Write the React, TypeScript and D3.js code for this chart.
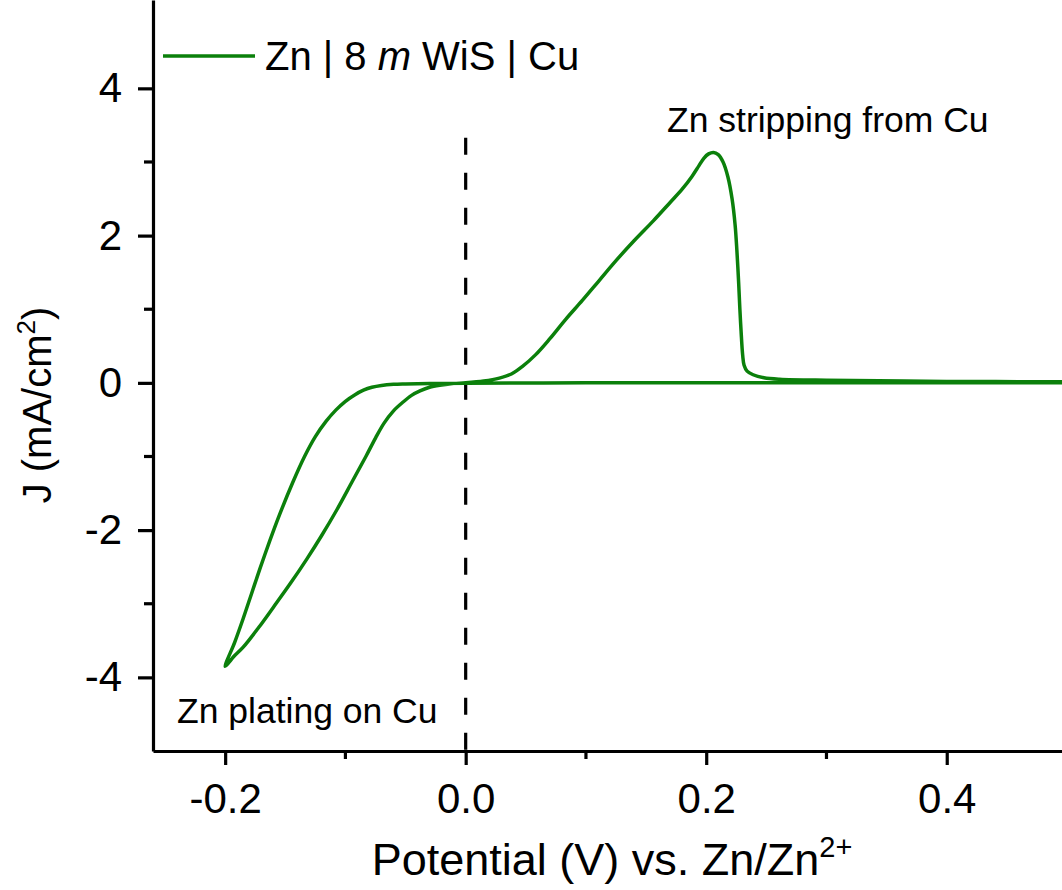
import React, { useEffect, useRef } from 'react'
import * as d3 from 'd3'

// cathodic sweep: 0.5 V down to -0.2 V (V, mA/cm2)
const sweepDownV = [0.5, 0.4, 0.3, 0.2, 0.1, 0.0, -0.03, -0.05, -0.06, -0.07, -0.078, -0.085, -0.092, -0.1, -0.108, -0.116, -0.125, -0.134, -0.144, -0.155, -0.163, -0.171, -0.178, -0.185, -0.192, -0.2]
const sweepDownJ = [0.0, 0.0, 0.0, 0.0, 0.0, -0.005, -0.01, -0.015, -0.02, -0.035, -0.06, -0.1, -0.16, -0.25, -0.37, -0.52, -0.73, -1.0, -1.36, -1.8, -2.15, -2.52, -2.86, -3.2, -3.52, -3.85]

// anodic sweep: -0.2 V back up to 0.5 V, with stripping peak
const sweepUpV = [-0.197, -0.193, -0.185, -0.172, -0.16, -0.146, -0.132, -0.12, -0.107, -0.094, -0.083, -0.075, -0.068, -0.06, -0.052, -0.045, -0.038, -0.03, -0.02, -0.01, 0.0, 0.015, 0.028, 0.038, 0.047, 0.058, 0.07, 0.083, 0.097, 0.111, 0.125, 0.14, 0.156, 0.17, 0.18, 0.188, 0.194, 0.198, 0.202, 0.206, 0.21, 0.214, 0.218, 0.2215, 0.224, 0.2255, 0.227, 0.228, 0.229, 0.2303, 0.2315, 0.234, 0.239, 0.248, 0.261, 0.3, 0.4, 0.5]
const sweepUpJ = [-3.8, -3.72, -3.59, -3.32, -3.05, -2.73, -2.39, -2.08, -1.72, -1.33, -1.0, -0.75, -0.55, -0.38, -0.26, -0.17, -0.11, -0.06, -0.03, -0.01, 0.0, 0.025, 0.065, 0.12, 0.22, 0.38, 0.6, 0.86, 1.12, 1.39, 1.66, 1.93, 2.2, 2.45, 2.63, 2.8, 2.95, 3.05, 3.11, 3.13, 3.1, 3.0, 2.8, 2.5, 2.15, 1.8, 1.35, 1.0, 0.7, 0.38, 0.24, 0.16, 0.11, 0.07, 0.05, 0.035, 0.02, 0.015]

const xMajor = [-0.2, 0.0, 0.2, 0.4]
const xMinor = [-0.1, 0.1, 0.3]
const yMajor = [-4, -2, 0, 2, 4]
const yMinor = [-3, -1, 1, 3]

const lineColor = '#0b800b'
const font = '"Liberation Sans", Arial, sans-serif'

export default function App() {
  const ref = useRef<SVGSVGElement>(null)

  const width = 1062
  const height = 890
  const x = d3.scaleLinear().domain([-0.26, 0.5]).range([153, 1067])
  const y = d3.scaleLinear().domain([-5, 5.2]).range([751, 0])

  const pts: [number, number][] = [
    ...sweepDownV.map((v, i) => [v, sweepDownJ[i]] as [number, number]),
    ...sweepUpV.map((v, i) => [v, sweepUpJ[i]] as [number, number]),
  ]

  useEffect(() => {
    const el = ref.current
    if (!el) return
    const svg = d3.select(el)
    svg.selectAll('.axes').remove()
    const g = svg.append('g').attr('class', 'axes')

    const xAxis = g.append('g').attr('transform', `translate(0, ${y(-5)})`)
    xAxis.call(d3.axisBottom(x).tickValues(xMajor).tickSize(14).tickSizeOuter(0).tickPadding(18).tickFormat(d => (+d).toFixed(1)))
    xAxis.append('g').selectAll('line').data(xMinor).join('line')
      .attr('x1', d => x(d)).attr('x2', d => x(d)).attr('y1', 0).attr('y2', 8)

    const yAxis = g.append('g').attr('transform', `translate(${x(-0.26)}, 0)`)
    yAxis.call(d3.axisLeft(y).tickValues(yMajor).tickSize(15).tickSizeOuter(0).tickPadding(16).tickFormat(d => String(d)))
    yAxis.append('g').selectAll('line').data(yMinor).join('line')
      .attr('y1', d => y(d)).attr('y2', d => y(d)).attr('x1', 0).attr('x2', -9)

    g.selectAll('.domain, line').attr('stroke', '#000').attr('stroke-width', 3.2)
    g.selectAll('text').attr('fill', '#000').attr('font-size', 42).attr('font-family', font)
  }, [])

  const line = d3.line<[number, number]>().x(d => x(d[0])).y(d => y(d[1])).curve(d3.curveCatmullRom.alpha(0.5))

  return (
    <svg ref={ref} width={width} height={height} style={{ position: 'absolute', left: 0, top: 0, background: '#fff' }}>
      <line x1={x(0)} x2={x(0)} y1={y(3.33)} y2={y(-5)} stroke="#000" strokeWidth={3.2} strokeDasharray="17,18" />
      <path d={line(pts) ?? ''} fill="none" stroke={lineColor} strokeWidth={3.5} strokeLinejoin="round" />

      <line x1={163} x2={255} y1={56} y2={56} stroke={lineColor} strokeWidth={3.5} />
      <text x={265} y={70} fontFamily={font} fontSize={40} fill="#000">
        Zn | 8 <tspan fontStyle="italic">m</tspan> WiS | Cu
      </text>

      <text x={667} y={132} fontFamily={font} fontSize={35.5} fill="#000">Zn stripping from Cu</text>
      <text x={177} y={723} fontFamily={font} fontSize={35.5} fill="#000">Zn plating on Cu</text>

      <text x={612} y={875} textAnchor="middle" fontFamily={font} fontSize={45} fill="#000">
        Potential (V) vs. Zn/Zn<tspan fontSize={29} dy={-18}>2+</tspan>
      </text>
      <text transform={`translate(51, 405) rotate(-90)`} textAnchor="middle" fontFamily={font} fontSize={40} fill="#000">
        J (mA/cm<tspan fontSize={26} dy={-16}>2</tspan><tspan dy={16}>)</tspan>
      </text>
    </svg>
  )
}
